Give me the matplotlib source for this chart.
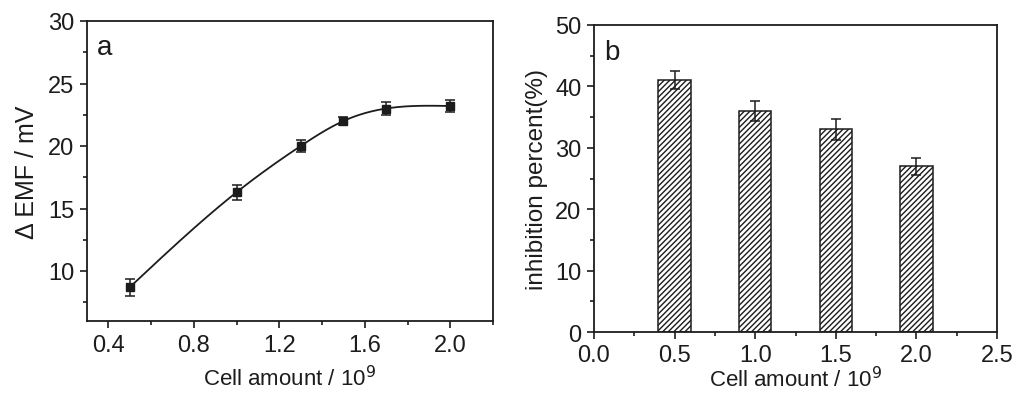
import numpy as np
import matplotlib
matplotlib.use("Agg")
import matplotlib.pyplot as plt
from matplotlib.ticker import MultipleLocator, FormatStrFormatter

plt.rcParams['font.family'] = ['Liberation Sans', 'DejaVu Sans']
plt.rcParams['hatch.linewidth'] = 1.0

# Panel a data
cell_a = [0.5, 1.0, 1.3, 1.5, 1.7, 2.0]
emf = [8.7, 16.3, 20.0, 22.0, 23.0, 23.2]
emf_err = [0.7, 0.6, 0.5, 0.35, 0.5, 0.45]

# Panel b data
cell_b = [0.5, 1.0, 1.5, 2.0]
inhib = [41, 36, 33, 27]
inhib_err = [1.5, 1.6, 1.7, 1.4]


def natural_spline(x, y, n=200):
    x = np.asarray(x, float); y = np.asarray(y, float)
    m = len(x)
    h = np.diff(x)
    A = np.zeros((m, m)); r = np.zeros(m)
    A[0, 0] = A[-1, -1] = 1
    for i in range(1, m - 1):
        A[i, i - 1] = h[i - 1]
        A[i, i] = 2 * (h[i - 1] + h[i])
        A[i, i + 1] = h[i]
        r[i] = 6 * ((y[i + 1] - y[i]) / h[i] - (y[i] - y[i - 1]) / h[i - 1])
    M = np.linalg.solve(A, r)
    xs = np.linspace(x[0], x[-1], n)
    ys = np.empty_like(xs)
    for k, xv in enumerate(xs):
        i = min(np.searchsorted(x, xv, side='right') - 1, m - 2)
        t0 = x[i + 1] - xv; t1 = xv - x[i]
        ys[k] = (M[i] * t0**3 + M[i + 1] * t1**3) / (6 * h[i]) \
            + (y[i] / h[i] - M[i] * h[i] / 6) * t0 \
            + (y[i + 1] / h[i] - M[i + 1] * h[i] / 6) * t1
    return xs, ys

fig = plt.figure(figsize=(10.24, 4.06), dpi=100)
ax1 = fig.add_axes([87/1024, 1 - 322/406, 406/1024, 300/406])
ax2 = fig.add_axes([594/1024, 1 - 333/406, 403/1024, 307/406])

col = '#1c1c1c'
fs = 17

xs, ys = natural_spline(cell_a, emf)
ax1.plot(xs, ys, color=col, lw=1.3)
ax1.errorbar(cell_a, emf, yerr=emf_err, fmt='s', color=col, ms=6,
             capsize=3.5, elinewidth=1.1, capthick=1.1)
ax1.set_xlim(0.3, 2.2)
ax1.set_ylim(6, 30)
ax1.set_xticks([0.4, 0.8, 1.2, 1.6, 2.0])
ax1.xaxis.set_minor_locator(MultipleLocator(0.2))
ax1.set_yticks([10, 15, 20, 25, 30])
ax1.yaxis.set_minor_locator(MultipleLocator(2.5))
ax1.set_xlabel('Cell amount / 10$^{9}$', fontsize=16, color=col, labelpad=7)
ax1.set_ylabel('Δ EMF / mV', fontsize=18, color=col, labelpad=7)
ax1.text(0.025, 0.955, 'a', transform=ax1.transAxes, fontsize=20, color=col,
         va='top', ha='left')

ax2.bar(cell_b, inhib, width=0.2, color='white', edgecolor=col, hatch='//////',
        linewidth=1.1, yerr=inhib_err,
        error_kw=dict(ecolor=col, capsize=3.5, elinewidth=1.1, capthick=1.1))
ax2.set_xlim(0, 2.5)
ax2.set_ylim(0, 50)
ax2.xaxis.set_major_locator(MultipleLocator(0.5))
ax2.xaxis.set_minor_locator(MultipleLocator(0.25))
ax2.yaxis.set_major_locator(MultipleLocator(10))
ax2.yaxis.set_minor_locator(MultipleLocator(5))
ax2.set_xlabel('Cell amount / 10$^{9}$', fontsize=16, color=col, labelpad=0)
ax2.set_ylabel('inhibition percent(%)', fontsize=17.5, color=col, labelpad=5)
ax2.text(0.025, 0.955, 'b', transform=ax2.transAxes, fontsize=20, color=col,
         va='top', ha='left')

for ax in (ax1, ax2):
    for s in ax.spines.values():
        s.set_color(col)
        s.set_linewidth(1.3)
    ax.tick_params(which='both', direction='out', top=False, right=False,
                   colors=col, labelsize=fs, width=1.2, pad=4)
    ax.tick_params(which='major', length=5)
    ax.tick_params(which='minor', length=3)
    ax.yaxis.set_major_formatter(FormatStrFormatter('%g'))
    ax.xaxis.set_major_formatter(FormatStrFormatter('%.1f'))

fig.savefig('out.png', dpi=100, facecolor='white')
